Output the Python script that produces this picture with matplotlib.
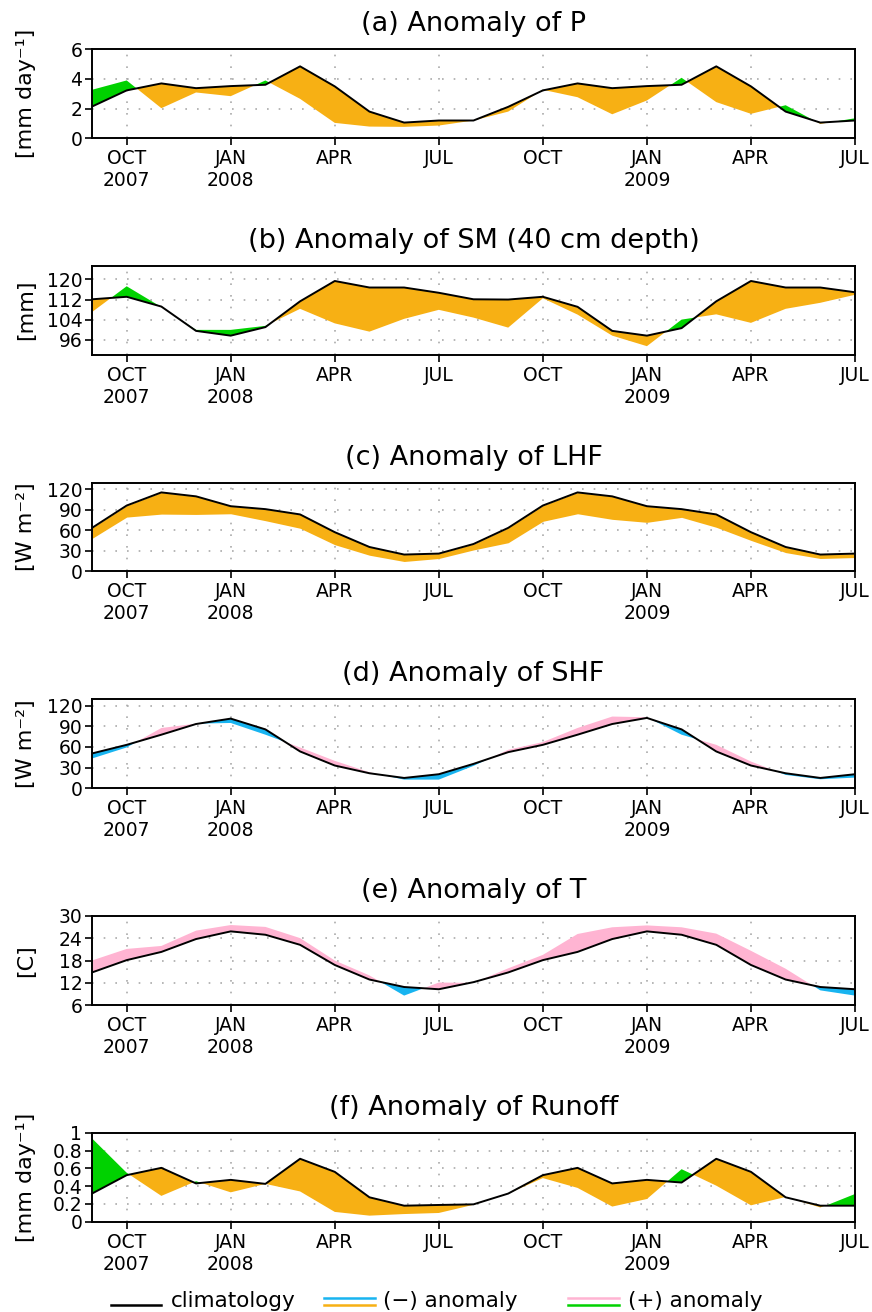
import numpy as np
import matplotlib
matplotlib.use("Agg")
import matplotlib.pyplot as plt
from matplotlib.lines import Line2D

# ---------------- data ----------------
months = list(range(23))  # Sep 2007 .. Jul 2009
tick_pos = [1, 4, 7, 10, 13, 16, 19, 22]
tick_labels = ["OCT\n2007", "JAN\n2008", "APR", "JUL", "OCT", "JAN\n2009", "APR", "JUL"]

p_clim = [2.14, 3.23, 3.70, 3.38, 3.52, 3.61, 4.85, 3.50, 1.80, 1.06, 1.20, 1.20,
          2.12, 3.23, 3.70, 3.38, 3.52, 3.61, 4.85, 3.50, 1.80, 1.06, 1.20]
p_obs = [3.27, 3.90, 2.03, 3.09, 2.84, 3.90, 2.66, 1.04, 0.79, 0.77, 0.86, 1.20,
         1.80, 3.27, 2.77, 1.62, 2.55, 4.08, 2.44, 1.65, 2.23, 0.97, 1.35]

sm_clim = [112.1, 113.1, 109.2, 99.5, 97.6, 101.0, 111.3, 119.4, 116.8, 116.8, 114.7, 112.1,
           112.0, 113.1, 109.1, 99.5, 97.6, 100.6, 111.3, 119.4, 116.8, 116.8, 114.9]
sm_obs = [107.0, 117.3, 109.0, 99.9, 99.9, 101.5, 108.3, 102.5, 99.2, 104.3, 107.9, 104.8,
          100.8, 112.5, 106.0, 97.6, 93.4, 104.0, 106.1, 102.7, 108.3, 110.7, 113.9]

lhf_clim = [63.4, 96.3, 115.6, 109.8, 95.3, 91.0, 83.2, 57.1, 35.3, 24.2, 25.6, 39.7,
            63.4, 96.3, 115.6, 109.8, 95.3, 91.0, 83.2, 57.1, 35.3, 24.2, 25.6]
lhf_obs = [47.9, 79.3, 83.7, 83.2, 84.2, 74.0, 62.9, 38.7, 23.2, 14.0, 18.4, 31.0,
           41.6, 73.1, 84.2, 76.0, 71.6, 78.9, 64.3, 45.0, 27.1, 18.4, 19.8]

shf_clim = [50.5, 63.0, 77.7, 93.2, 101.0, 85.4, 53.4, 33.0, 21.8, 15.0, 20.4, 35.4,
            52.4, 63.0, 77.7, 93.2, 102.0, 85.4, 53.4, 33.0, 21.8, 15.0, 20.4]
shf_obs = [43.2, 59.2, 87.4, 93.7, 94.7, 77.7, 59.2, 39.8, 23.3, 12.6, 12.6, 32.5,
           55.8, 67.0, 87.4, 104.0, 103.0, 77.7, 63.0, 38.8, 19.4, 13.1, 15.5]

t_clim = [14.8, 18.1, 20.3, 23.75, 25.8, 24.9, 22.2, 16.8, 12.9, 10.9, 10.3, 12.2,
          14.8, 18.1, 20.3, 23.75, 25.8, 24.9, 22.2, 16.8, 12.9, 10.9, 10.3]
t_obs = [18.0, 21.1, 21.9, 26.0, 27.5, 27.0, 24.0, 18.0, 14.0, 8.6, 12.1, 12.0,
         15.9, 19.5, 25.1, 26.9, 27.4, 26.9, 25.2, 20.6, 15.8, 10.0, 8.6]

ro_clim = [0.316, 0.523, 0.605, 0.430, 0.470, 0.425, 0.707, 0.560, 0.274, 0.180, 0.188, 0.195,
           0.316, 0.523, 0.605, 0.430, 0.470, 0.440, 0.707, 0.560, 0.274, 0.180, 0.180]
ro_obs = [0.936, 0.550, 0.290, 0.455, 0.330, 0.425, 0.340, 0.110, 0.068, 0.086, 0.098, 0.190,
          0.316, 0.490, 0.380, 0.170, 0.255, 0.590, 0.405, 0.184, 0.278, 0.160, 0.310]

titles = ["(a) Anomaly of P", "(b) Anomaly of SM (40 cm depth)", "(c) Anomaly of LHF",
          "(d) Anomaly of SHF", "(e) Anomaly of T", "(f) Anomaly of Runoff"]
units = ["[mm day\u207b\u00b9]", "[mm]", "[W m\u207b\u00b2]", "[W m\u207b\u00b2]", "[C]",
         "[mm day\u207b\u00b9]"]
yticks = [[0, 2, 4, 6], [96, 104, 112, 120], [0, 30, 60, 90, 120], [0, 30, 60, 90, 120],
          [6, 12, 18, 24, 30], [0, 0.2, 0.4, 0.6, 0.8, 1.0]]
ytick_labels = [None, None, None, None, None, ["0", "0.2", "0.4", "0.6", "0.8", "1"]]
ylims = [(0, 6), (90, 125.5), (0, 129), (0, 129), (6, 30), (0, 1)]

ORANGE = "#F7B014"
GREEN = "#00D200"
BLUE = "#18B4F0"
PINK = "#FFB4D2"

series = [(p_clim, p_obs, ORANGE, GREEN), (sm_clim, sm_obs, ORANGE, GREEN),
          (lhf_clim, lhf_obs, ORANGE, GREEN), (shf_clim, shf_obs, BLUE, PINK),
          (t_clim, t_obs, BLUE, PINK), (ro_clim, ro_obs, ORANGE, GREEN)]

# ---------------- layout ----------------
W, H = 872, 1312
fig = plt.figure(figsize=(W / 100, H / 100), dpi=100)
plt.rcParams['font.family'] = ['DejaVu Sans']

panel_px = [(49.3, 138.3), (265.7, 354.7), (483.3, 571.0), (699.3, 788.3),
            (915.7, 1005.3), (1132.7, 1221.7)]
left_px, right_px = 92, 855

for i, ((top, bot), (clim, obs, cneg, cpos)) in enumerate(zip(panel_px, series)):
    ax = fig.add_axes([left_px / W, 1 - bot / H, (right_px - left_px) / W, (bot - top) / H])
    x = np.array(months, dtype=float)
    c = np.array(clim)
    o = np.array(obs)
    ax.fill_between(x, c, o, where=o < c, interpolate=True, color=cneg, lw=0, zorder=2)
    ax.fill_between(x, c, o, where=o > c, interpolate=True, color=cpos, lw=0, zorder=2)
    ax.plot(x, c, color="black", lw=1.4, zorder=3)
    ax.set_xlim(0, 22)
    ax.set_ylim(*ylims[i])
    ax.set_xticks(tick_pos)
    ax.set_xticklabels(tick_labels, fontsize=13.5, linespacing=1.2)
    ax.set_yticks(yticks[i])
    if ytick_labels[i] is not None:
        ax.set_yticklabels(ytick_labels[i])
    ax.tick_params(axis='y', labelsize=13.5, length=5, width=1.2, pad=2)
    ax.tick_params(axis='x', which='major', length=5, width=1.2, pad=3)
    ax.grid(True, which='major', color="#AAAAAA", linestyle=(0, (1, 6)), lw=1.2, zorder=1)
    for s in ax.spines.values():
        s.set_linewidth(1.4)
    ax.set_title(titles[i], fontsize=19.5, pad=13)
    fig.text(26 / W, 1 - (top + bot) / 2 / H, units[i], rotation=90, ha='center',
             va='center', fontsize=16)

# ---------------- legend ----------------
lax = fig.add_axes([0, 0, 1, 1], facecolor='none')
lax.set_xlim(0, W)
lax.set_ylim(H, 0)
lax.axis('off')
lax.add_line(Line2D([111, 161], [1305, 1305], color='black', lw=1.8))
lax.text(171, 1301, "climatology", fontsize=15.5, va='center', ha='left')
lax.add_line(Line2D([324, 375], [1297.5, 1297.5], color=BLUE, lw=1.8))
lax.add_line(Line2D([324, 375], [1305, 1305], color=ORANGE, lw=1.8))
lax.text(383, 1301, "(\u2212) anomaly", fontsize=15.5, va='center', ha='left')
lax.add_line(Line2D([568, 619], [1297.5, 1297.5], color=PINK, lw=1.8))
lax.add_line(Line2D([568, 619], [1305, 1305], color=GREEN, lw=1.8))
lax.text(628, 1301, "(+) anomaly", fontsize=15.5, va='center', ha='left')

fig.savefig("out.png", dpi=100)
